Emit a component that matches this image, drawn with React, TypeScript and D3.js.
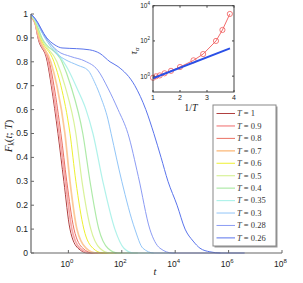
import React, { useEffect, useRef } from 'react';
import * as d3 from 'd3';

// legend temperatures
const temps = ['1', '0.9', '0.8', '0.7', '0.6', '0.5', '0.4', '0.35', '0.3', '0.28', '0.26'];

// F_k(t;T), as [log10 t, F]
const fT100 = [[-1.4, .985], [-1.25, .96], [-1.14, .9], [-0.79, .8], [-0.64, .7], [-0.39, .5], [-0.17, .3], [0.06, .1], [0.36, .02], [0.73, 0], [1.0, 0]];
const fT090 = [[-1.4, .986], [-1.25, .962], [-1.12, .9], [-0.75, .8], [-0.6, .7], [-0.34, .5], [-0.11, .3], [0.13, .1], [0.43, .02], [0.81, 0], [1.1, 0]];
const fT080 = [[-1.4, .987], [-1.25, .964], [-1.1, .9], [-0.71, .8], [-0.54, .7], [-0.28, .5], [-0.06, .3], [0.21, .1], [0.54, .02], [0.92, 0], [1.3, 0]];
const fT070 = [[-1.4, .989], [-1.25, .966], [-1.09, .9], [-0.66, .8], [-0.43, .7], [-0.13, .5], [0.06, .3], [0.32, .1], [0.66, .02], [1.03, 0], [1.5, 0]];
const fT060 = [[-1.4, .99], [-1.25, .968], [-1.05, .9], [-0.54, .8], [-0.28, .7], [0.06, .5], [0.28, .3], [0.58, .1], [0.92, .02], [1.29, 0], [1.8, 0]];
const fT050 = [[-1.4, .992], [-1.25, .97], [-1.03, .9], [-0.43, .8], [-0.13, .7], [0.28, .5], [0.51, .3], [0.84, .1], [1.18, .02], [1.56, 0], [2.0, 0]];
const fT040 = [[-1.4, .993], [-1.25, .972], [-0.99, .9], [-0.24, .8], [0.09, .7], [0.54, .5], [0.81, .3], [1.14, .1], [1.48, .02], [1.86, 0], [2.6, 0]];
const fT035 = [[-1.4, .995], [-1.25, .975], [-1.03, .93], [-0.5, .85], [-0.02, .77], [0.36, .68], [0.66, .6], [0.92, .5], [1.29, .3], [1.74, .1], [2.08, .02], [2.45, 0], [3.2, 0]];
const fT030 = [[-1.4, .997], [-1.25, .978], [-0.88, .9], [-0.4, .83], [-0.13, .81], [0.36, .785], [0.73, .765], [1.0, .71], [1.22, .65], [1.48, .56], [1.6, .5], [2.0, .3], [2.49, .1], [2.79, .02], [3.2, 0], [4.0, 0]];
const fT028 = [[-1.4, .998], [-1.25, .98], [-0.84, .9], [-0.4, .845], [0.09, .822], [0.62, .803], [1.1, .765], [1.48, .69], [1.86, .6], [2.23, .5], [2.62, .32], [3.05, .1], [3.43, .02], [3.9, 0], [5.7, 0]];
const fT026 = [[-1.4, 1.0], [-1.25, .982], [-0.81, .9], [-0.5, .87], [-0.24, .858], [0.3, .855], [0.8, .85], [1.18, .835], [1.56, .8], [1.86, .78], [2.49, .7], [2.9, .6], [3.2, .5], [3.47, .4], [3.73, .3], [4.07, .2], [4.37, .1], [4.67, .05], [4.93, .02], [5.3, .005], [5.7, 0], [6.6, 0]];
const curves = [fT100, fT090, fT080, fT070, fT060, fT050, fT040, fT035, fT030, fT028, fT026];

// main axis ticks
const yTicks = [0, 0.1, 0.2, 0.3, 0.4, 0.5, 0.6, 0.7, 0.8, 0.9, 1];
const xTickExp = [0, 2, 4, 6, 8];

// inset: tau_alpha vs 1/T
const tauAlpha = [0.81, 0.98, 1.1, 1.45, 2.0, 3.3, 7.9, 18, 100, 420, 3400];
const fitInvT = [1, 3.85];
const fitTau = [0.76, 38];
const insetXTicks = [1, 2, 3, 4];
const insetYTickExp = [0, 2, 4];

const palette = ['#b04040', '#f7a8a8', '#ea7062', '#fcc998', '#eef030', '#d9f29a', '#aeeaa8', '#b0f2ea', '#92c6f8', '#8c9cf4', '#5a74ec'];
const widths = [1, 1.7, 1, 1.7, 1, 1.2, 1.2, 1.2, 1, 1, 1];

const App: React.FC = () => {
    const svgRef = useRef<SVGSVGElement>(null);

    useEffect(() => {
        if (!svgRef.current) return;
        const svg = d3.select(svgRef.current);
        svg.selectAll('*').remove();

        const sans = '"Liberation Sans", Arial, sans-serif';
        const serif = '"Liberation Serif", "Times New Roman", serif';
        const axisColor = '#666';

        // main scales
        const x = d3.scaleLog().domain([Math.pow(10, -1.4), 1e8]).range([31, 282]);
        const y = d3.scaleLinear().domain([0, 1]).range([253, 14]);

        const line = d3
            .line<number[]>()
            .x((d) => x(Math.pow(10, d[0])))
            .y((d) => y(d[1]))
            .curve(d3.curveMonotoneX);

        const main = svg.append('g');

        curves.forEach((c, i) => {
            main.append('path')
                .datum(c)
                .attr('fill', 'none')
                .attr('stroke', palette[i])
                .attr('stroke-width', widths[i])
                .attr('d', line);
        });

        // axes
        main.append('line')
            .attr('x1', x.range()[0]).attr('x2', x.range()[0])
            .attr('y1', y(0)).attr('y2', y(1))
            .attr('stroke', axisColor).attr('stroke-width', 1.2);
        main.append('line')
            .attr('x1', x.range()[0]).attr('x2', x.range()[1])
            .attr('y1', y(0)).attr('y2', y(0))
            .attr('stroke', axisColor).attr('stroke-width', 1.2);

        yTicks.forEach((v) => {
            main.append('line')
                .attr('x1', x.range()[0]).attr('x2', x.range()[0] + 3)
                .attr('y1', y(v)).attr('y2', y(v))
                .attr('stroke', axisColor);
            main.append('text')
                .attr('x', 28).attr('y', y(v)).attr('dy', '0.35em')
                .attr('text-anchor', 'end')
                .attr('font-family', sans).attr('font-size', 8.5)
                .attr('fill', '#222')
                .text(String(v));
        });

        xTickExp.forEach((e) => {
            const px = x(Math.pow(10, e));
            main.append('line')
                .attr('x1', px).attr('x2', px)
                .attr('y1', y(0)).attr('y2', y(0) - 3)
                .attr('stroke', axisColor);
            const t = main.append('text')
                .attr('x', px - 1.5).attr('y', 266.5)
                .attr('text-anchor', 'middle')
                .attr('font-family', sans).attr('font-size', 8.5)
                .attr('fill', '#222');
            t.append('tspan').text('10');
            t.append('tspan').attr('dy', -4).attr('font-size', 6).text(String(e));
        });

        // axis labels
        main.append('text')
            .attr('x', 155).attr('y', 275)
            .attr('text-anchor', 'middle')
            .attr('font-family', serif).attr('font-size', 10.5)
            .attr('font-style', 'italic')
            .attr('fill', '#222')
            .text('t');

        const yl = main.append('text')
            .attr('transform', 'translate(12,136) rotate(-90)')
            .attr('text-anchor', 'middle')
            .attr('font-family', serif).attr('font-size', 11)
            .attr('fill', '#222');
        yl.append('tspan').attr('font-style', 'italic').text('F');
        yl.append('tspan').attr('font-style', 'italic').attr('font-size', 7.5).attr('dy', 2).text('k');
        yl.append('tspan').attr('dy', -2).text('(');
        yl.append('tspan').attr('font-style', 'italic').text('t');
        yl.append('tspan').text('; ');
        yl.append('tspan').attr('font-style', 'italic').text('T');
        yl.append('tspan').text(')');

        // legend
        const lg = svg.append('g');
        const lx0 = 213, ly0 = 105, lw = 63, lh = 141;
        lg.append('rect')
            .attr('x', lx0 + 1.5).attr('y', ly0 + 1.5)
            .attr('width', lw).attr('height', lh)
            .attr('fill', '#999');
        lg.append('rect')
            .attr('x', lx0).attr('y', ly0)
            .attr('width', lw).attr('height', lh)
            .attr('fill', 'white')
            .attr('stroke', '#888').attr('stroke-width', 1);
        temps.forEach((T, i) => {
            const yy = 113.5 + i * 12.44;
            lg.append('line')
                .attr('x1', 216.5).attr('x2', 235)
                .attr('y1', yy).attr('y2', yy)
                .attr('stroke', palette[i]).attr('stroke-width', widths[i]);
            const t = lg.append('text')
                .attr('x', 237).attr('y', yy).attr('dy', '0.33em')
                .attr('font-family', serif).attr('font-size', 8.5)
                .attr('fill', '#333');
            t.append('tspan').attr('font-style', 'italic').text('T');
            t.append('tspan').text(` = ${T}`);
        });

        // inset
        const ins = svg.append('g');
        const ix = d3.scaleLinear().domain([1, 4]).range([153, 234]);
        const iy = d3.scaleLog().domain([Math.pow(10, -0.9), 1e4]).range([92, 5.7]);

        ins.append('rect')
            .attr('x', 153).attr('y', 5.7)
            .attr('width', 81).attr('height', 86.3)
            .attr('fill', 'white');

        const pts = temps.map((T, i) => [1 / parseFloat(T), tauAlpha[i]]);
        const iline = d3.line<number[]>().x((d) => ix(d[0])).y((d) => iy(d[1]));

        ins.append('path')
            .datum(pts)
            .attr('fill', 'none')
            .attr('stroke', '#f05a5a').attr('stroke-width', 0.9)
            .attr('d', iline);
        ins.selectAll('circle.pt')
            .data(pts)
            .enter()
            .append('circle')
            .attr('class', 'pt')
            .attr('cx', (d) => ix(d[0]))
            .attr('cy', (d) => iy(d[1]))
            .attr('r', 2.6)
            .attr('fill', 'none')
            .attr('stroke', '#f05a5a').attr('stroke-width', 0.8);

        ins.append('path')
            .datum(fitInvT.map((v, i) => [v, fitTau[i]]))
            .attr('fill', 'none')
            .attr('stroke', '#2a4fe6').attr('stroke-width', 2)
            .attr('d', iline);

        ins.append('rect')
            .attr('x', 153).attr('y', 5.7)
            .attr('width', 81).attr('height', 86.3)
            .attr('fill', 'none')
            .attr('stroke', '#444').attr('stroke-width', 1);

        insetXTicks.forEach((v) => {
            const px = ix(v);
            ins.append('line')
                .attr('x1', px).attr('x2', px).attr('y1', 92).attr('y2', 90)
                .attr('stroke', '#444');
            ins.append('line')
                .attr('x1', px).attr('x2', px).attr('y1', 5.7).attr('y2', 7.7)
                .attr('stroke', '#444');
            ins.append('text')
                .attr('x', px).attr('y', 99.5)
                .attr('text-anchor', 'middle')
                .attr('font-family', sans).attr('font-size', 7)
                .attr('fill', '#222')
                .text(String(v));
        });
        insetYTickExp.forEach((e) => {
            const py = iy(Math.pow(10, e));
            ins.append('line')
                .attr('x1', 153).attr('x2', 155).attr('y1', py).attr('y2', py)
                .attr('stroke', '#444');
            ins.append('line')
                .attr('x1', 234).attr('x2', 232).attr('y1', py).attr('y2', py)
                .attr('stroke', '#444');
            const t = ins.append('text')
                .attr('x', 150).attr('y', py + 2.5)
                .attr('text-anchor', 'end')
                .attr('font-family', sans).attr('font-size', 6.5)
                .attr('fill', '#222');
            t.append('tspan').text('10');
            t.append('tspan').attr('dy', -3).attr('font-size', 4.5).text(String(e));
        });

        const il = ins.append('text')
            .attr('x', 191).attr('y', 111)
            .attr('text-anchor', 'middle')
            .attr('font-family', serif).attr('font-size', 10)
            .attr('fill', '#222');
        il.append('tspan').text('1/');
        il.append('tspan').attr('font-style', 'italic').text('T');

        const tl = ins.append('text')
            .attr('transform', 'translate(137,51) rotate(-90)')
            .attr('text-anchor', 'middle')
            .attr('font-family', serif).attr('font-size', 9.5)
            .attr('fill', '#222');
        tl.append('tspan').attr('font-style', 'italic').text('τ');
        tl.append('tspan').attr('font-style', 'italic').attr('font-size', 6.5).attr('dy', 2).text('α');
    }, []);

    return (
        <svg
            ref={svgRef}
            width={303}
            height={283}
            style={{ position: 'absolute', left: 0, top: 0, background: 'white' }}
        />
    );
};

export default App;
